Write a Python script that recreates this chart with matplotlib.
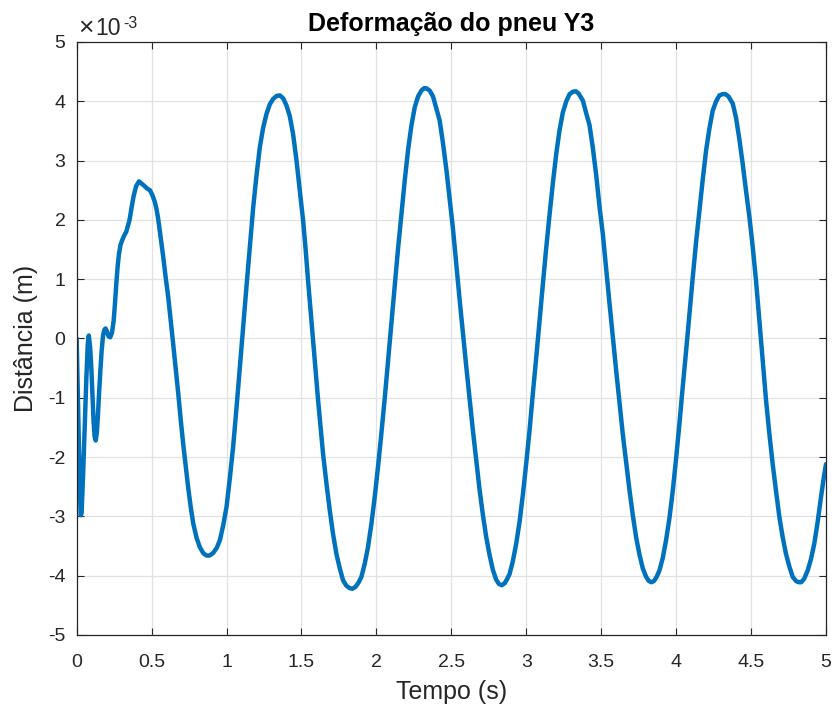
import matplotlib
matplotlib.use('Agg')
import matplotlib.pyplot as plt
from matplotlib.ticker import FuncFormatter

plt.rcParams['font.family'] = ['Liberation Sans', 'DejaVu Sans']
plt.rcParams['axes.unicode_minus'] = False

# tempo (s) e deformacao do pneu Y3 (em 1e-3 m)
tempo = [
    0.000, 0.010, 0.020, 0.027, 0.033, 0.043, 0.054, 0.065, 0.074, 0.081,
    0.090, 0.098, 0.106, 0.113, 0.120, 0.127, 0.134, 0.142, 0.150, 0.158,
    0.167, 0.176, 0.185, 0.193, 0.202, 0.212, 0.224, 0.236, 0.247, 0.256,
    0.264, 0.273, 0.282, 0.293, 0.304, 0.318, 0.331, 0.342, 0.353, 0.366,
    0.380, 0.397, 0.416, 0.435, 0.453, 0.470, 0.489, 0.505, 0.522, 0.533,
    0.544, 0.561, 0.578, 0.594, 0.611, 0.628, 0.644, 0.661, 0.678, 0.694,
    0.711, 0.728, 0.744, 0.761, 0.778, 0.800, 0.822, 0.845, 0.866, 0.886,
    0.910, 0.935, 0.956, 0.978, 1.000, 1.022, 1.044, 1.067, 1.089, 1.111,
    1.133, 1.156, 1.178, 1.200, 1.222, 1.244, 1.267, 1.289, 1.311, 1.334,
    1.356, 1.378, 1.400, 1.422, 1.444, 1.467, 1.489, 1.511, 1.528, 1.544,
    1.561, 1.578, 1.594, 1.611, 1.628, 1.644, 1.667, 1.689, 1.711, 1.733,
    1.756, 1.778, 1.800, 1.822, 1.840, 1.860, 1.880, 1.900, 1.922, 1.944,
    1.967, 1.989, 2.011, 2.033, 2.056, 2.078, 2.100, 2.122, 2.144, 2.167,
    2.189, 2.211, 2.233, 2.256, 2.278, 2.300, 2.318, 2.333, 2.356, 2.378,
    2.400, 2.422, 2.444, 2.467, 2.489, 2.511, 2.533, 2.556, 2.578, 2.600,
    2.622, 2.644, 2.667, 2.689, 2.711, 2.733, 2.756, 2.778, 2.800, 2.818,
    2.836, 2.855, 2.872, 2.889, 2.911, 2.933, 2.956, 2.978, 3.000, 3.022,
    3.044, 3.067, 3.089, 3.111, 3.133, 3.156, 3.178, 3.200, 3.222, 3.244,
    3.267, 3.289, 3.310, 3.330, 3.350, 3.378, 3.400, 3.422, 3.444, 3.467,
    3.489, 3.511, 3.533, 3.556, 3.578, 3.600, 3.622, 3.644, 3.667, 3.689,
    3.711, 3.733, 3.756, 3.778, 3.800, 3.818, 3.835, 3.852, 3.870, 3.889,
    3.911, 3.933, 3.956, 3.978, 4.000, 4.022, 4.044, 4.067, 4.089, 4.111,
    4.133, 4.156, 4.178, 4.200, 4.222, 4.244, 4.267, 4.289, 4.310, 4.330,
    4.350, 4.378, 4.400, 4.422, 4.444, 4.467, 4.489, 4.511, 4.533, 4.550,
    4.567, 4.583, 4.600, 4.622, 4.644, 4.667, 4.689, 4.711, 4.733, 4.756,
    4.778, 4.800, 4.818, 4.835, 4.855, 4.878, 4.900, 4.922, 4.944, 4.967,
    4.985, 5.000,
]
deform = [
    0.00, -1.20, -2.40, -2.98, -2.95, -2.30, -1.49, -0.65, -0.10, 0.05,
    -0.15, -0.50, -1.00, -1.40, -1.65, -1.72, -1.60, -1.30, -0.90, -0.55,
    -0.20, 0.05, 0.15, 0.17, 0.12, 0.04, 0.02, 0.10, 0.30, 0.60,
    0.90, 1.20, 1.42, 1.58, 1.66, 1.74, 1.80, 1.90, 2.00, 2.20,
    2.40, 2.57, 2.65, 2.61, 2.57, 2.53, 2.50, 2.42, 2.30, 2.18,
    2.02, 1.70, 1.37, 1.03, 0.70, 0.30, -0.09, -0.51, -0.93, -1.36,
    -1.78, -2.16, -2.51, -2.84, -3.12, -3.36, -3.52, -3.62, -3.66, -3.66,
    -3.62, -3.53, -3.40, -3.15, -2.84, -2.36, -1.83, -1.16, -0.48, 0.20,
    0.87, 1.55, 2.21, 2.75, 3.22, 3.55, 3.79, 3.95, 4.04, 4.09,
    4.10, 4.05, 3.93, 3.75, 3.45, 3.00, 2.50, 1.99, 1.50, 0.98,
    0.47, -0.03, -0.54, -1.04, -1.50, -1.94, -2.45, -2.90, -3.30, -3.63,
    -3.88, -4.08, -4.17, -4.21, -4.22, -4.19, -4.12, -4.02, -3.80, -3.52,
    -3.12, -2.67, -2.16, -1.61, -1.00, -0.37, 0.25, 0.87, 1.50, 2.10,
    2.66, 3.17, 3.58, 3.90, 4.08, 4.18, 4.22, 4.22, 4.18, 4.08,
    3.88, 3.68, 3.30, 2.85, 2.35, 1.85, 1.25, 0.64, 0.08, -0.48,
    -1.02, -1.55, -2.07, -2.56, -2.98, -3.35, -3.66, -3.91, -4.07, -4.14,
    -4.16, -4.13, -4.06, -3.97, -3.75, -3.46, -3.08, -2.62, -2.10, -1.55,
    -0.93, -0.31, 0.31, 0.92, 1.52, 2.10, 2.63, 3.11, 3.51, 3.81,
    4.00, 4.12, 4.16, 4.17, 4.13, 4.01, 3.80, 3.60, 3.22, 2.75,
    2.22, 1.76, 1.18, 0.58, 0.02, -0.54, -1.08, -1.61, -2.10, -2.56,
    -2.98, -3.35, -3.65, -3.88, -4.02, -4.09, -4.11, -4.09, -4.02, -3.91,
    -3.70, -3.40, -3.02, -2.56, -2.02, -1.44, -0.82, -0.20, 0.42, 1.03,
    1.62, 2.16, 2.69, 3.17, 3.54, 3.84, 4.00, 4.10, 4.12, 4.12,
    4.08, 3.96, 3.72, 3.36, 2.95, 2.48, 2.05, 1.55, 0.98, 0.47,
    -0.03, -0.53, -1.04, -1.60, -2.11, -2.58, -3.01, -3.35, -3.63, -3.85,
    -4.02, -4.09, -4.11, -4.11, -4.05, -3.91, -3.72, -3.46, -3.10, -2.67,
    -2.35, -2.12,
]

xticks = [0, 0.5, 1, 1.5, 2, 2.5, 3, 3.5, 4, 4.5, 5]
xticklabels = ['0', '0.5', '1', '1.5', '2', '2.5', '3', '3.5', '4', '4.5', '5']
yticks = [-5, -4, -3, -2, -1, 0, 1, 2, 3, 4, 5]

fig = plt.figure(figsize=(8.35, 7.13), dpi=100)
ax = fig.add_axes([0.0918, 0.1094, 0.8974, 0.8317])

y_m = [v * 1e-3 for v in deform]
ax.plot(tempo, y_m, color='#0072BD', linewidth=3.2, solid_capstyle='round',
        solid_joinstyle='round')

ax.set_xlim(0, 5)
ax.set_ylim(-5e-3, 5e-3)
ax.set_xticks(xticks)
ax.set_xticklabels(xticklabels)
ax.set_yticks([v * 1e-3 for v in yticks])
ax.yaxis.set_major_formatter(FuncFormatter(lambda v, p: '%g' % round(v * 1e3, 6)))

ax.grid(True, color='#e2e2e2', linewidth=0.9)
ax.set_axisbelow(True)
ax.tick_params(direction='in', length=5, width=0.8, top=True, right=True,
               labelsize=14, colors='#262626')
ax.tick_params(axis='x', pad=14)
ax.tick_params(axis='y', pad=8)
for s in ax.spines.values():
    s.set_color('#262626')
    s.set_linewidth(0.9)

# multiplicador do eixo y
fig.text(78 / 835, 1 - 35 / 713, '×', fontsize=19, color='#262626',
         ha='left', va='baseline')
fig.text(95 / 835, 1 - 35 / 713, '10', fontsize=16.5, color='#262626',
         ha='left', va='baseline')
fig.text(123 / 835, 1 - 28 / 713, '-3', fontsize=11.5, color='#262626',
         ha='left', va='baseline')

ax.set_xlabel('Tempo (s)', fontsize=18, color='#262626', labelpad=6)
ax.set_ylabel('Distância (m)', fontsize=18, color='#262626', labelpad=7)
ax.set_title('Deformação do pneu Y3', fontsize=18, fontweight='bold',
             color='#000000', pad=8)

fig.savefig('out.png', dpi=100)
